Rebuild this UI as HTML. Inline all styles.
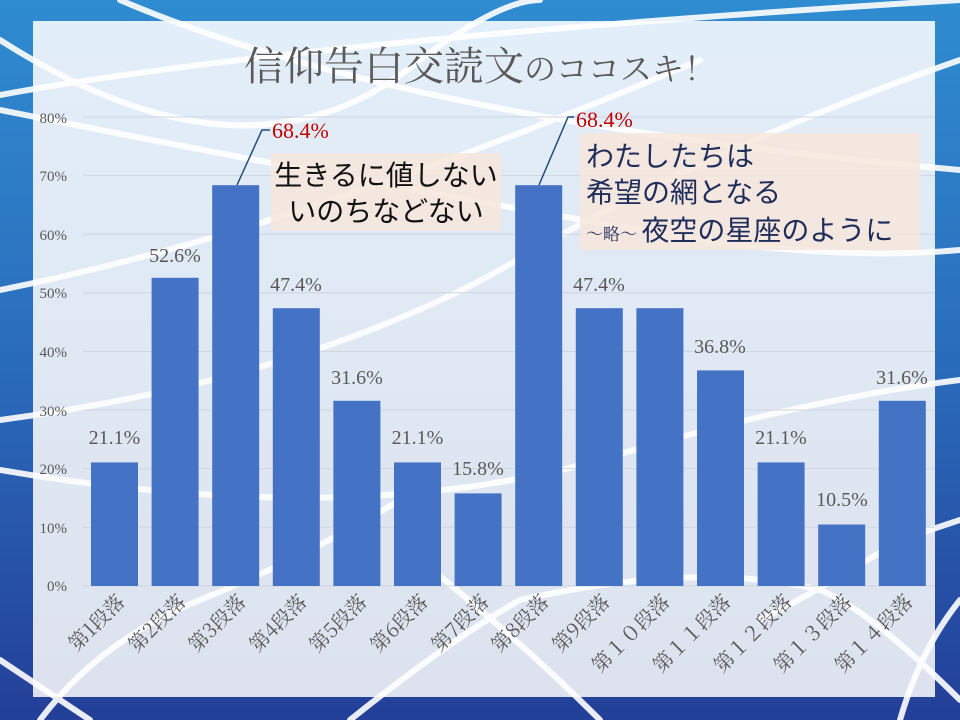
<!DOCTYPE html>
<html><head><meta charset="utf-8"><style>
body{margin:0;width:960px;height:720px;overflow:hidden}
svg{display:block}
</style></head><body>
<svg width="960" height="720" viewBox="0 0 960 720" xmlns="http://www.w3.org/2000/svg">
<defs>
<linearGradient id="bg" x1="0" y1="0" x2="0" y2="1">
<stop offset="0" stop-color="#2f8cd0"/><stop offset="0.5" stop-color="#2a6cbc"/><stop offset="1" stop-color="#233f98"/>
</linearGradient>
<linearGradient id="pn" x1="0" y1="0" x2="0" y2="1">
<stop offset="0" stop-color="#e2eef9"/><stop offset="1" stop-color="#dde2ee"/>
</linearGradient>
</defs>
<rect width="960" height="720" fill="url(#bg)"/>
<rect x="33" y="21" width="902" height="676" fill="url(#pn)"/>
<g fill="none" stroke="#fff" stroke-width="6" opacity="0.9" stroke-linecap="round">
<path d="M120 0 Q400 120 960 170"/>
<path d="M0 95 Q300 40 960 0"/>
<path d="M0 40 Q250 200 420 60 Q500 0 540 0"/>
<path d="M0 290 Q300 230 700 60"/>
<path d="M0 110 Q400 190 700 240 Q850 260 960 250"/>
<path d="M0 420 Q300 380 500 270 Q700 150 960 60"/>
<path d="M0 470 Q350 530 600 460 Q800 400 960 380"/>
<path d="M0 660 Q60 700 90 720"/>
<path d="M40 720 Q100 640 200 600 Q300 560 400 500"/>
<path d="M350 720 Q450 640 520 600 Q700 560 820 590 Q870 610 960 700"/>
<path d="M420 560 Q520 640 600 720"/>
<path d="M760 620 Q820 590 900 540 L960 520"/>
<path d="M900 720 Q920 650 960 600"/>
</g>
<g stroke="#d0d6e0" stroke-width="1">
<line x1="83" y1="117" x2="935" y2="117"/><line x1="83" y1="175.6" x2="935" y2="175.6"/>
<line x1="83" y1="234.2" x2="935" y2="234.2"/><line x1="83" y1="292.8" x2="935" y2="292.8"/>
<line x1="83" y1="351.4" x2="935" y2="351.4"/><line x1="83" y1="410" x2="935" y2="410"/>
<line x1="83" y1="468.6" x2="935" y2="468.6"/><line x1="83" y1="527.2" x2="935" y2="527.2"/>
<line x1="83" y1="586" x2="935" y2="586"/>
</g>
<g font-family="Liberation Serif, serif" font-size="15" fill="#595959" text-anchor="end">
<text x="67" y="123">80%</text><text x="67" y="181">70%</text><text x="67" y="240">60%</text>
<text x="67" y="298">50%</text><text x="67" y="357">40%</text><text x="67" y="416">30%</text>
<text x="67" y="474">20%</text><text x="67" y="533">10%</text><text x="67" y="591">0%</text>
</g>
<text x="480" y="80" text-anchor="middle" font-family="'Noto Serif CJK SC', serif" font-size="40" fill="#595959">信仰告白交読文<tspan font-size="32">のココスキ！</tspan></text>
<g fill="#4472c4">
<rect x="91" y="462.4" width="47" height="123.6"/>
<rect x="151.6" y="277.8" width="47" height="308.2"/>
<rect x="212.2" y="185.2" width="47" height="400.8"/>
<rect x="272.8" y="308.2" width="47" height="277.8"/>
<rect x="333.4" y="400.8" width="47" height="185.2"/>
<rect x="394" y="462.4" width="47" height="123.6"/>
<rect x="454.6" y="493.4" width="47" height="92.6"/>
<rect x="515.2" y="185.2" width="47" height="400.8"/>
<rect x="575.8" y="308.2" width="47" height="277.8"/>
<rect x="636.4" y="308.2" width="47" height="277.8"/>
<rect x="697" y="370.4" width="47" height="215.6"/>
<rect x="757.6" y="462.4" width="47" height="123.6"/>
<rect x="818.2" y="524.5" width="47" height="61.5"/>
<rect x="878.8" y="400.8" width="47" height="185.2"/>
</g>
<g font-family="Liberation Serif, serif" font-size="20" fill="#595959" text-anchor="middle">
<text x="114.5" y="444">21.1%</text><text x="175" y="262">52.6%</text>
<text x="296" y="291">47.4%</text><text x="357" y="384">31.6%</text><text x="417.5" y="444">21.1%</text>
<text x="478" y="475">15.8%</text><text x="599" y="291">47.4%</text>
<text x="720" y="353">36.8%</text><text x="781" y="444">21.1%</text><text x="842" y="506">10.5%</text>
<text x="902" y="384">31.6%</text>
</g>
<g stroke="#1f4e79" stroke-width="1.5" fill="none">
<polyline points="237,185 262,130 270,130"/>
<polyline points="539,185 568,117 574,117"/>
</g>
<g font-family="Liberation Serif, serif" font-size="22" fill="#c00000">
<text x="272" y="138">68.4%</text><text x="576" y="127">68.4%</text>
</g>
<rect x="271" y="153" width="230" height="78" fill="#f6e6dc" opacity="0.85"/>
<rect x="580" y="133" width="340" height="117" fill="#f6e6dc" opacity="0.85"/>
<g font-family="'Noto Sans CJK JP', sans-serif" font-size="28" fill="#111" text-anchor="middle">
<text x="386" y="185">生きるに値しない</text><text x="386" y="221">いのちなどない</text>
</g>
<g font-family="'Noto Sans CJK JP', sans-serif" font-size="28" fill="#1f2d5a">
<text x="586" y="166">わたしたちは</text><text x="586" y="202">希望の網となる</text>
<text x="586" y="240"><tspan font-size="17" font-family="'Noto Serif CJK SC', serif">～略～ </tspan>夜空の星座のように</text>
</g>
<g font-family="'Noto Serif CJK SC', serif" font-size="20" fill="#595959" text-anchor="end">
<text transform="translate(126,603) rotate(-45)">第1段落</text>
<text transform="translate(187,603) rotate(-45)">第2段落</text>
<text transform="translate(247,603) rotate(-45)">第3段落</text>
<text transform="translate(308,603) rotate(-45)">第4段落</text>
<text transform="translate(368,603) rotate(-45)">第5段落</text>
<text transform="translate(429,603) rotate(-45)">第6段落</text>
<text transform="translate(490,603) rotate(-45)">第7段落</text>
<text transform="translate(550,603) rotate(-45)">第8段落</text>
<text transform="translate(611,603) rotate(-45)">第9段落</text>
<text transform="translate(671,603) rotate(-45)">第１０段落</text>
<text transform="translate(732,603) rotate(-45)">第１１段落</text>
<text transform="translate(793,603) rotate(-45)">第１２段落</text>
<text transform="translate(853,603) rotate(-45)">第１３段落</text>
<text transform="translate(914,603) rotate(-45)">第１４段落</text>
</g>
</svg>
</body></html>
